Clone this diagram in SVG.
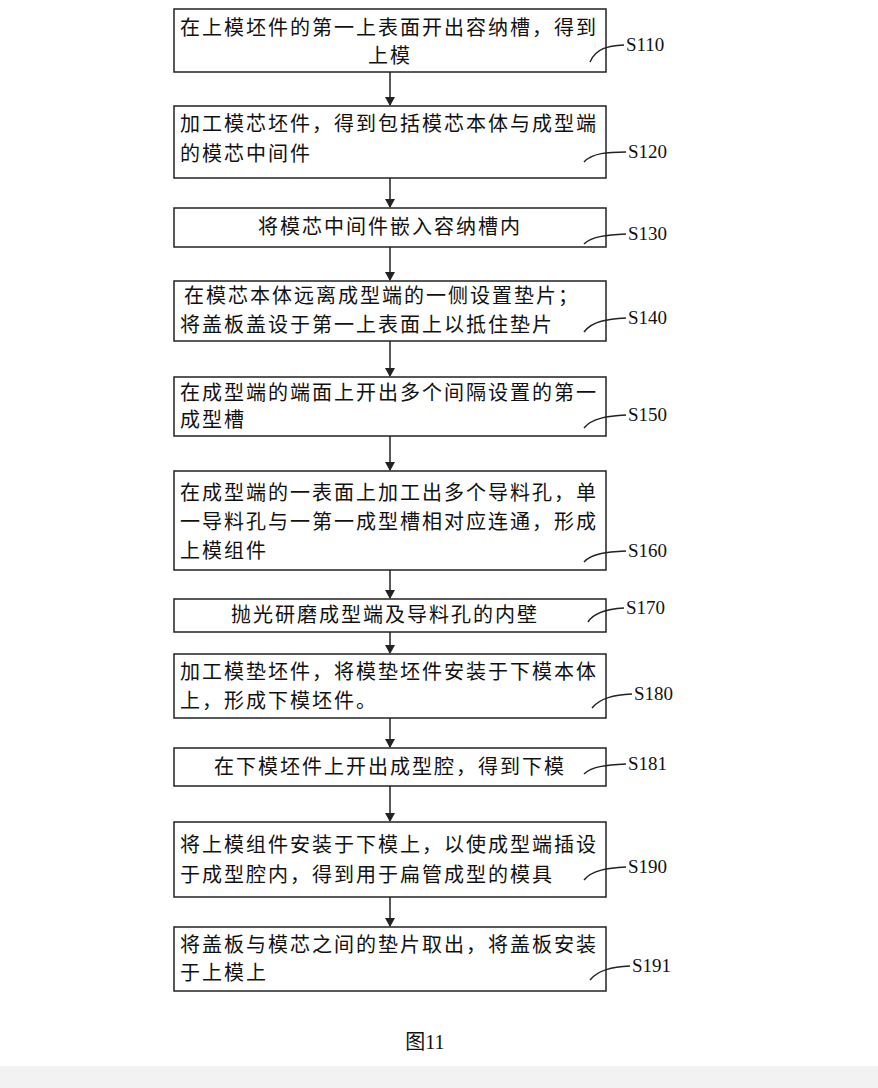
<svg xmlns="http://www.w3.org/2000/svg" width="878" height="1088" viewBox="0 0 878 1088">
<defs>
<style>
.b{fill:#fff;stroke:#222;stroke-width:1.5}
.t{font-family:"Liberation Serif","Noto Sans CJK SC",serif;font-size:20px;letter-spacing:2px;fill:#111}
.l{font-family:"Liberation Serif","Noto Sans CJK SC",serif;font-size:19px;fill:#111}
.c{fill:none;stroke:#222;stroke-width:1.5}
.a{stroke:#222;stroke-width:1.5}
</style>
<marker id="ar" markerWidth="10" markerHeight="10" refX="8" refY="5" orient="auto" markerUnits="userSpaceOnUse"><path d="M0,0 L9,5 L0,10 Z" fill="#222"/></marker>
</defs>
<rect width="878" height="1088" fill="#fff"/>
<rect y="1066" width="878" height="22" fill="#f2f2f2"/>
<g id="connectors">
<line class="a" x1="390" y1="72" x2="390" y2="105" marker-end="url(#ar)"/>
<line class="a" x1="390" y1="178" x2="390" y2="207" marker-end="url(#ar)"/>
<line class="a" x1="390" y1="247" x2="390" y2="280" marker-end="url(#ar)"/>
<line class="a" x1="390" y1="341" x2="390" y2="376" marker-end="url(#ar)"/>
<line class="a" x1="390" y1="436" x2="390" y2="470" marker-end="url(#ar)"/>
<line class="a" x1="390" y1="570" x2="390" y2="598" marker-end="url(#ar)"/>
<line class="a" x1="390" y1="632" x2="390" y2="653" marker-end="url(#ar)"/>
<line class="a" x1="390" y1="718" x2="390" y2="747" marker-end="url(#ar)"/>
<line class="a" x1="390" y1="786" x2="390" y2="821" marker-end="url(#ar)"/>
<line class="a" x1="390" y1="897" x2="390" y2="926" marker-end="url(#ar)"/>
</g>
<g id="n1"><rect class="b" x="174" y="9" width="432" height="63"/><text class="t" x="180" y="35">在上模坯件的第一上表面开出容纳槽，得到</text><text class="t" x="390" y="63" text-anchor="middle">上模</text><path class="c" d="M590,62 C596,48 608,46 624,45"/><text class="l" x="626" y="51">S110</text></g>
<g id="n2"><rect class="b" x="174" y="106" width="432" height="72"/><text class="t" x="180" y="131">加工模芯坯件，得到包括模芯本体与成型端</text><text class="t" x="180" y="161">的模芯中间件</text><path class="c" d="M584,162 C592,153 608,152 626,152"/><text class="l" x="628" y="158">S120</text></g>
<g id="n3"><rect class="b" x="174" y="208" width="432" height="39"/><text class="t" x="390" y="234" text-anchor="middle">将模芯中间件嵌入容纳槽内</text><path class="c" d="M584,244 C592,236 608,235 626,234"/><text class="l" x="628" y="240">S130</text></g>
<g id="n4"><rect class="b" x="174" y="281" width="432" height="60"/><text class="t" x="184" y="303">在模芯本体远离成型端的一侧设置垫片；</text><text class="t" x="180" y="332">将盖板盖设于第一上表面上以抵住垫片</text><path class="c" d="M584,332 C592,321 608,319 626,318"/><text class="l" x="628" y="324">S140</text></g>
<g id="n5"><rect class="b" x="174" y="377" width="432" height="59"/><text class="t" x="180" y="400">在成型端的端面上开出多个间隔设置的第一</text><text class="t" x="180" y="427">成型槽</text><path class="c" d="M584,428 C592,418 608,416 626,415"/><text class="l" x="628" y="421">S150</text></g>
<g id="n6"><rect class="b" x="174" y="471" width="432" height="99"/><text class="t" x="180" y="500">在成型端的一表面上加工出多个导料孔，单</text><text class="t" x="180" y="529">一导料孔与一第一成型槽相对应连通，形成</text><text class="t" x="180" y="558">上模组件</text><path class="c" d="M584,562 C592,553 608,552 626,551"/><text class="l" x="628" y="557">S160</text></g>
<g id="n7"><rect class="b" x="174" y="599" width="432" height="33"/><text class="t" x="385" y="622" text-anchor="middle">抛光研磨成型端及导料孔的内壁</text><path class="c" d="M588,622 C594,612 608,609 624,608"/><text class="l" x="626" y="614">S170</text></g>
<g id="n8"><rect class="b" x="174" y="654" width="432" height="64"/><text class="t" x="180" y="679">加工模垫坯件，将模垫坯件安装于下模本体</text><text class="t" x="180" y="708">上，形成下模坯件。</text><path class="c" d="M592,708 C600,698 614,695 632,694"/><text class="l" x="634" y="700">S180</text></g>
<g id="n9"><rect class="b" x="174" y="748" width="432" height="38"/><text class="t" x="390" y="774" text-anchor="middle">在下模坯件上开出成型腔，得到下模</text><path class="c" d="M584,774 C592,766 608,765 626,764"/><text class="l" x="628" y="770">S181</text></g>
<g id="n10"><rect class="b" x="174" y="822" width="432" height="75"/><text class="t" x="180" y="852">将上模组件安装于下模上，以使成型端插设</text><text class="t" x="180" y="882">于成型腔内，得到用于扁管成型的模具</text><path class="c" d="M584,880 C592,870 608,868 626,867"/><text class="l" x="628" y="873">S190</text></g>
<g id="n11"><rect class="b" x="174" y="927" width="432" height="64"/><text class="t" x="180" y="952">将盖板与模芯之间的垫片取出，将盖板安装</text><text class="t" x="180" y="980">于上模上</text><path class="c" d="M590,980 C598,970 612,967 630,966"/><text class="l" x="632" y="972">S191</text></g>
<text class="t" x="425" y="1049" text-anchor="middle" style="letter-spacing:0">图11</text>
</svg>
